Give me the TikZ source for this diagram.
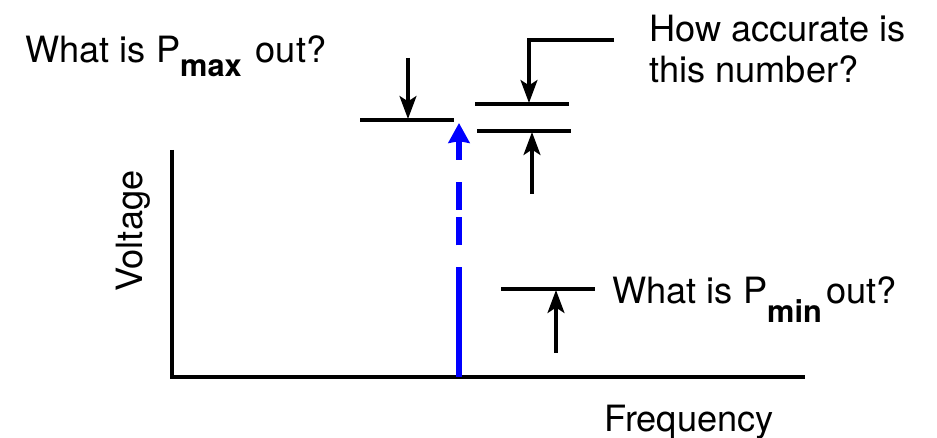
\documentclass[tikz,border=0pt]{standalone}
\usepackage{fontspec}
\setmainfont{TeX Gyre Heros}
\usetikzlibrary{arrows.meta}

\newcommand{\lowsub}[2]{\raisebox{-#1}{\fontsize{17.5}{20}\selectfont\bfseries #2}}

\begin{document}
\begin{tikzpicture}[x=0.02cm, y=-0.02cm, >={Stealth[length=13pt, width=9.5pt, inset=3pt]},
    axis/.style={line width=2.3pt},
    marker/.style={line width=2.3pt},
    pointer/.style={->, line width=2.3pt},
    label/.style={font=\fontsize{20.6}{24}\selectfont, inner sep=0pt, anchor=base west}]
    \useasboundingbox (0,0) rectangle (937,438);

    % axes
    \coordinate (O) at (172,377);
    \coordinate (Vtop) at (172,150);
    \coordinate (Fend) at (805,377);
    \draw[axis] (Vtop) -- (O) -- (Fend);
    \node[label, anchor=base, rotate=90] (vlab) at (142,231) {Voltage};
    \node[label, anchor=base] (flab) at (689,432) {Frequency};

    % signal
    \coordinate (S0) at (459,377);
    \coordinate (S1) at (459,123);
    \draw[blue, line width=3.4pt, dash pattern=on 62.4pt off 12.5pt on 15.9pt off 4.5pt on 15.9pt off 12.5pt on 20pt,
        -{Stealth[length=11.3pt, width=12pt, inset=1pt]}] (S0) -- (S1);

    % P max
    \coordinate (MaxL) at (360,120);
    \coordinate (MaxR) at (454,120);
    \coordinate (MaxA) at (408,58);
    \coordinate (MaxT) at (408,119);
    \draw[marker] (MaxL) -- (MaxR);
    \draw[pointer] (MaxA) -- (MaxT);
    \node[label] (maxlab) at (25,63) {What is P\lowsub{7.9pt}{max}\hspace{8pt}out?};

    % accuracy
    \coordinate (AccUL) at (475,104);
    \coordinate (AccUR) at (569,104);
    \coordinate (AccLL) at (477,131);
    \coordinate (AccLR) at (571,131);
    \coordinate (AccS) at (614,40);
    \coordinate (AccB) at (529,40);
    \coordinate (AccT) at (529,103);
    \coordinate (AccA) at (532,194);
    \coordinate (AccU) at (532,132);
    \draw[marker] (AccUL) -- (AccUR);
    \draw[marker] (AccLL) -- (AccLR);
    \draw[pointer] (AccS) -- (AccB) -- (AccT);
    \draw[pointer] (AccA) -- (AccU);
    \node[label] (acclab) at (649,42) {How accurate is};
    \node[label] (acclab2) at (649,83) {this number?};

    % P min
    \coordinate (MinL) at (501,289);
    \coordinate (MinR) at (595,289);
    \coordinate (MinA) at (556,353);
    \coordinate (MinT) at (556,290);
    \draw[marker] (MinL) -- (MinR);
    \draw[pointer] (MinA) -- (MinT);
    \node[label] (minlab) at (612,304) {What is P\lowsub{10.8pt}{min}\hspace{2.5pt}out?};
\end{tikzpicture}
\end{document}
